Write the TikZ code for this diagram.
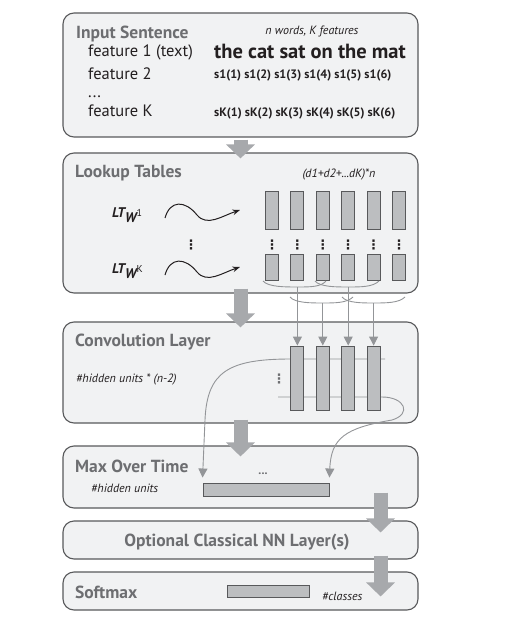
\documentclass[tikz,border=0pt]{standalone}
\usepackage{fontspec}
\setmainfont{PT Sans}
\newfontfamily\symfont{DejaVu Sans}
\usepackage{xcolor}
\usetikzlibrary{arrows.meta, calc, backgrounds}

\definecolor{boxfill}{HTML}{F1F2F3}
\definecolor{boxline}{HTML}{58595B}
\definecolor{headgray}{HTML}{6D6E71}
\definecolor{cellfill}{HTML}{BCBEC0}
\definecolor{cellline}{HTML}{58595B}
\definecolor{flowgray}{HTML}{A7A9AC}
\definecolor{linkgray}{HTML}{939598}
\definecolor{ink}{HTML}{231F20}

\begin{document}
\begin{tikzpicture}[
  x=1pt, y=-1pt,
  >=Stealth,
  every node/.style={text=ink, inner sep=0pt},
  stagebox/.style={draw=boxline, line width=1.1pt, fill=boxfill,
    rounded corners=11pt, minimum width=355},
  unit/.style={draw=cellline, line width=0.9pt, fill=cellfill, minimum width=13},
  hdr/.style={font=\fontsize{17.5}{20}\selectfont\bfseries, text=headgray, anchor=base west},
  annot/.style={font=\fontsize{12}{14}\selectfont\itshape, anchor=base west},
  feat/.style={font=\fontsize{16.5}{19}\selectfont, anchor=base west},
  vdot/.style={font=\symfont\fontsize{13}{13}\selectfont\bfseries},
  flow/.style={-{Triangle[width=28pt,length=14pt]}, line width=14pt, draw=flowgray},
  link/.style={-{Triangle[width=9pt,length=9pt]}, line width=0.9pt, draw=linkgray},
  wave/.style={->, line width=1pt, draw=ink}
]
\useasboundingbox (0,0) rectangle (506,639);

% ---- STAGES (behind everything) ----
\begin{scope}[on background layer]
\node[stagebox, minimum height=124] (inp) at (240.5,75) {};
\node[stagebox, minimum height=140] (lt) at (240.5,223) {};
\node[stagebox, minimum height=101] (conv) at (240.5,372.5) {};
\node[stagebox, minimum height=62] (mxt) at (240.5,477) {};
\node[stagebox, minimum height=38] (opt) at (240.5,540) {};
\node[stagebox, minimum height=38] (soft) at (240.5,591) {};
\end{scope}

% ---- INPUT SENTENCE ----
\node[hdr] (tin) at (76,39) {Input Sentence};
\node[annot, anchor=base] (tnk) at (312,35) {n words, K features};
\node[feat] (f1) at (88,57) {feature 1 (text)};
\node[anchor=base west, font=\fontsize{20.5}{24}\selectfont\bfseries] (sent) at (214,59)
  {the cat sat on the mat};
\node[feat] (f2) at (88,80) {feature 2};
\node[anchor=base west, font=\fontsize{12.2}{14}\selectfont\bfseries] (s1) at (214,79)
  {s1(1) s1(2) s1(3) s1(4) s1(5) s1(6)};
\node[feat] (fdots) at (88,98) {...};
\node[feat] (fK) at (88,117) {feature K};
\node[anchor=base west, font=\fontsize{12.2}{14}\selectfont\bfseries] (sK) at (214,117)
  {sK(1) sK(2) sK(3) sK(4) sK(5) sK(6)};

% ---- LOOKUP TABLES ----
\node[hdr] (tlt) at (75,178) {Lookup Tables};
\node[annot, anchor=base] (tdim) at (339,178) {(d1+d2+...dK)*n};
\node[anchor=base west, font=\fontsize{14}{16}\selectfont\bfseries\itshape] (ltw1) at (112,217)
  {LT\raisebox{-5pt}{W}\raisebox{1pt}{\fontsize{10}{11}\selectfont\mdseries\upshape 1}};
\node[anchor=base west, font=\fontsize{14}{16}\selectfont\bfseries\itshape] (ltwK) at (112,273)
  {LT\raisebox{-5pt}{W}\raisebox{1pt}{\fontsize{10}{11}\selectfont\mdseries\upshape K}};
\draw[wave] (165,218) .. controls (170,200) and (185,200) .. (197,215)
  .. controls (207,227) and (222,216) .. (240,210);
\draw[wave] (165,275) .. controls (170,257) and (185,257) .. (197,272)
  .. controls (207,284) and (222,273) .. (240,267);

\node[unit, minimum height=38] (w1a) at (272,210) {};
\node[unit, minimum height=38] (w1b) at (297.4,210) {};
\node[unit, minimum height=38] (w1c) at (322.8,210) {};
\node[unit, minimum height=38] (w1d) at (348.2,210) {};
\node[unit, minimum height=38] (w1e) at (373.6,210) {};
\node[unit, minimum height=38] (w1f) at (399,210) {};
\node[unit, minimum height=26] (wKa) at (272,267) {};
\node[unit, minimum height=26] (wKb) at (297.4,267) {};
\node[unit, minimum height=26] (wKc) at (322.8,267) {};
\node[unit, minimum height=26] (wKd) at (348.2,267) {};
\node[unit, minimum height=26] (wKe) at (373.6,267) {};
\node[unit, minimum height=26] (wKf) at (399,267) {};

\node[vdot] (vd0) at (191,245) {⋮};
\node[vdot] (vda) at (272,245) {⋮};
\node[vdot] (vdb) at (297.4,245) {⋮};
\node[vdot] (vdc) at (322.8,245) {⋮};
\node[vdot] (vdd) at (348.2,245) {⋮};
\node[vdot] (vde) at (373.6,245) {⋮};
\node[vdot] (vdf) at (399,245) {⋮};

% ---- CONVOLUTION LAYER ----
\node[hdr] (tconv) at (75,346) {Convolution Layer};
\node[annot] (thu) at (76,382) {\#hidden units * (n-2)};
\node[unit, minimum height=64] (cva) at (297.4,378) {};
\node[unit, minimum height=64] (cvb) at (322.8,378) {};
\node[unit, minimum height=64] (cvc) at (348.2,378) {};
\node[unit, minimum height=64] (cvd) at (373.6,378) {};
\node[vdot, text=headgray] (vdcv) at (279,379) {⋮};

% ---- window braces: 3 lookup columns -> 1 conv column ----
\coordinate (brA) at (297.4,287);
\coordinate (brB) at (348.2,287);
\coordinate (brC) at (322.8,303);
\coordinate (brD) at (373.6,303);
\draw[linkgray, line width=0.9pt] (263,281) .. controls (268,287) and (285,287) .. (brA)
  .. controls (310,287) and (321,287) .. (326,281);
\draw[linkgray, line width=0.9pt] (315,281) .. controls (320,287) and (336,287) .. (brB)
  .. controls (361,287) and (373,287) .. (379,281);
\draw[linkgray, line width=0.9pt] (290,297) .. controls (295,303) and (311,303) .. (brC)
  .. controls (335,303) and (347,303) .. (353,297);
\draw[linkgray, line width=0.9pt] (342,297) .. controls (347,303) and (362,303) .. (brD)
  .. controls (386,303) and (399,303) .. (405,297);
\draw[link] (brA) -- (cva);
\draw[link] (brC) -- (cvb);
\draw[link] (brB) -- (cvc);
\draw[link] (brD) -- (cvd);

% ---- MAX OVER TIME ----
\node[hdr] (tmax) at (75,472) {Max Over Time};
\node[annot] (thu2) at (91,492) {\#hidden units};
\node[font=\fontsize{12}{14}\selectfont\bfseries, text=headgray, anchor=base] (mdots) at (263,474) {...};
\node[unit, minimum width=126, minimum height=13] (mxbar) at (266,489.5) {};

% ---- rows of the conv layer, max over each ----
\begin{scope}[on background layer]
\coordinate (upR) at (385,359);
\coordinate (loL) at (278,397);
\draw[link] (upR) -- (291,359) .. controls (228,359) and (207,372) .. (205,420)
  -- ($(mxbar.north west)+(0,-5)$);
\draw[link] (loL) -- (382,397) .. controls (405,397) and (412,414) .. (392,420)
  .. controls (345,428) and (331,438) .. ($(mxbar.north east)+(0,-5)$);
\end{scope}

% ---- OPTIONAL NN + SOFTMAX ----
\node[hdr, anchor=base] (topt) at (237,546) {Optional Classical NN Layer(s)};
\node[hdr] (tsm) at (75,598) {Softmax};
\node[unit, minimum width=82, minimum height=12] (smbar) at (268,591) {};
\node[annot] (tcls) at (322,600) {\#classes};

% ---- BIG ARROWS between stages ----
\draw[flow] ($(inp.south)+(0,2)$) -- ($(lt.north)+(0,6)$);
\draw[flow] ($(lt.south)+(0,-5)$) -- ($(conv.north)+(0,6)$);
\draw[flow] ($(conv.south)+(0,-4)$) -- ($(mxt.north)+(0,11)$);
\draw[flow] ($(mxt.south east)+(-38,-16)$) -- ($(opt.north east)+(-38,12)$);
\draw[flow] ($(opt.south east)+(-38,-4)$) -- ($(soft.north east)+(-38,25)$);

\end{tikzpicture}
\end{document}
